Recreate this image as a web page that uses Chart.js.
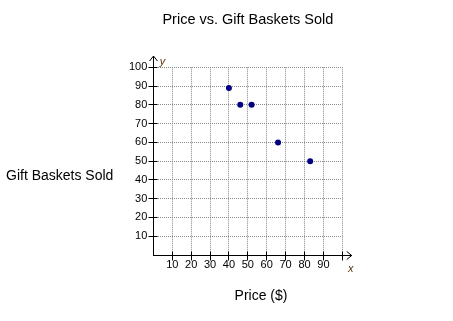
<!DOCTYPE html>
<html>
<head>
<meta charset="utf-8">
<script src="https://cdn.jsdelivr.net/npm/chart.js@4/dist/chart.umd.min.js"></script>
<style>
    html, body { margin: 0; padding: 0; background: #fff; }
    canvas { display: block; }
</style>
</head>
<body>
<canvas id="chart" width="453" height="321"></canvas>
<script>
// data
var price = [40, 46, 52, 66, 83]
var basketsSold = [89, 80, 80, 60, 50]
var xTickLabels = [10, 20, 30, 40, 50, 60, 70, 80, 90]
var yTickLabels = [10, 20, 30, 40, 50, 60, 70, 80, 90, 100]

var chartTitle = 'Price vs. Gift Baskets Sold'
var xTitle = 'Price ($)'
var yTitle = 'Gift Baskets Sold'

var FONT = '"Liberation Sans", Arial, sans-serif'

// axis arrows, tick crosses and axis titles
var axisExtras = {
    id: 'axisExtras',
    afterDraw: function (chart) {
        var ctx = chart.ctx
        var xs = chart.scales.x
        var ys = chart.scales.y
        var al = function (p) { return Math.round(p - 0.5) + 0.5 }
        var x0 = al(xs.getPixelForValue(0))
        var y0 = al(ys.getPixelForValue(0))
        var xEnd = xs.getPixelForValue(105)
        var yEnd = ys.getPixelForValue(106)

        ctx.save()
        ctx.strokeStyle = '#000'
        ctx.lineWidth = 1
        ctx.beginPath()
        // axis extensions + arrow heads
        ctx.moveTo(x0, y0); ctx.lineTo(xEnd, y0)
        ctx.moveTo(xEnd - 5, y0 - 4); ctx.lineTo(xEnd, y0); ctx.lineTo(xEnd - 5, y0 + 4)
        ctx.moveTo(x0, y0); ctx.lineTo(x0, yEnd)
        ctx.moveTo(x0 - 4, yEnd + 5); ctx.lineTo(x0, yEnd); ctx.lineTo(x0 + 4, yEnd + 5)
        // tick crosses
        xs.ticks.forEach(function (t) {
            if (t.value === 0) return
            var px = al(xs.getPixelForValue(t.value))
            ctx.moveTo(px, y0 - 4); ctx.lineTo(px, y0 + 5)
        })
        ys.ticks.forEach(function (t) {
            if (t.value === 0) return
            var py = al(ys.getPixelForValue(t.value))
            ctx.moveTo(x0 - 5, py); ctx.lineTo(x0 + 4, py)
        })
        ctx.stroke()

        // x / y letters
        ctx.fillStyle = '#553311'
        ctx.font = 'italic 11px ' + FONT
        ctx.textAlign = 'center'
        ctx.textBaseline = 'middle'
        ctx.fillText('y', x0 + 9, yEnd + 6)
        ctx.fillText('x', xEnd - 1, y0 + 13)

        // axis titles
        ctx.fillStyle = '#000'
        ctx.font = '14px ' + FONT
        ctx.textAlign = 'center'
        ctx.fillText(xTitle, 261, 296)
        ctx.textAlign = 'left'
        ctx.fillText(yTitle, 6, 176)
        ctx.restore()
    }
}

window.onload = function () {
    var points = price.map(function (p, i) {
        return { x: p, y: basketsSold[i] }
    })

    var ctx = document.getElementById('chart').getContext('2d')
    var chart = new Chart(ctx, {
        type: 'scatter',
        data: {
            datasets: [{
                data: points,
                pointRadius: 3,
                pointHoverRadius: 3,
                backgroundColor: '#000080',
                borderColor: '#000080',
                borderWidth: 0
            }]
        },
        options: {
            responsive: false,
            animation: false,
            layout: {
                padding: { top: 0, left: 123, right: 110.7, bottom: 46.8 }
            },
            plugins: {
                legend: { display: false },
                tooltip: { enabled: false },
                title: {
                    display: true,
                    text: chartTitle,
                    fullSize: false,
                    color: '#000',
                    font: { family: FONT, size: 14.5, weight: 'normal' },
                    padding: { top: 11.3, bottom: 38.6 }
                }
            },
            scales: {
                x: {
                    type: 'linear',
                    min: 0,
                    max: 100,
                    grid: { color: '#888', lineWidth: 1, drawTicks: false },
                    border: { display: true, color: '#000', width: 1, dash: [1, 1] },
                    ticks: {
                        stepSize: 10,
                        autoSkip: false,
                        maxRotation: 0,
                        padding: 3,
                        color: '#000',
                        font: { family: FONT, size: 11 },
                        callback: function (v) {
                            return xTickLabels.indexOf(v) >= 0 ? String(v) : ''
                        }
                    }
                },
                y: {
                    type: 'linear',
                    min: 0,
                    max: 100,
                    grid: { color: '#888', lineWidth: 1, drawTicks: false },
                    border: { display: true, color: '#000', width: 1, dash: [1, 1] },
                    ticks: {
                        stepSize: 10,
                        autoSkip: false,
                        padding: 6,
                        color: '#000',
                        font: { family: FONT, size: 11 },
                        callback: function (v) {
                            return yTickLabels.indexOf(v) >= 0 ? String(v) : ''
                        }
                    }
                }
            }
        },
        plugins: [axisExtras]
    })
}
</script>
</body>
</html>
